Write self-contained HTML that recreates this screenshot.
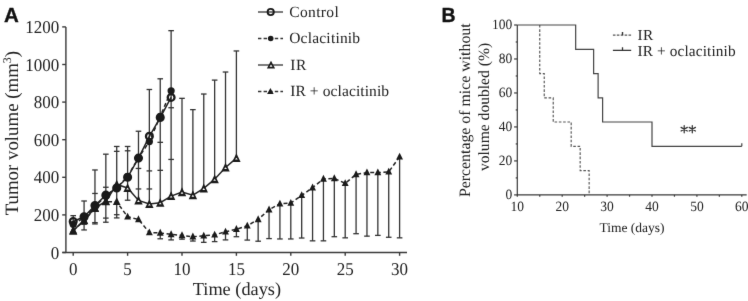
<!DOCTYPE html>
<html><head><meta charset="utf-8"><style>
html,body{margin:0;padding:0;background:#fff;}
svg{display:block;text-rendering:geometricPrecision;}
</style></head><body>
<svg width="748" height="301" viewBox="0 0 748 301">
<defs><filter id="bl" x="0" y="0" width="748" height="301" filterUnits="userSpaceOnUse" color-interpolation-filters="sRGB"><feConvolveMatrix order="3" kernelMatrix="0.00524 0.06192 0.00524 0.06192 0.73137 0.06192 0.00524 0.06192 0.00524" divisor="1" edgeMode="duplicate" preserveAlpha="false"/></filter></defs>
<rect width="748" height="301" fill="#fff"/>
<g filter="url(#bl)">
<g stroke="#3a3a3a" stroke-width="1.4" fill="none">
<path d="M65.9 26.9V252.5M62.4 252.5H407"/>
<path d="M62.2 252.5H65.9"/>
<path d="M62.2 214.9H65.9"/>
<path d="M62.2 177.3H65.9"/>
<path d="M62.2 139.7H65.9"/>
<path d="M62.2 102.1H65.9"/>
<path d="M62.2 64.5H65.9"/>
<path d="M62.2 26.9H65.9"/>
<path d="M73.2 252.5V255.8"/>
<path d="M127.6 252.5V255.8"/>
<path d="M182 252.5V255.8"/>
<path d="M236.4 252.5V255.8"/>
<path d="M290.8 252.5V255.8"/>
<path d="M345.2 252.5V255.8"/>
<path d="M399.6 252.5V255.8"/>
</g>
<g font-family="Liberation Serif, serif" font-size="17" fill="#222" text-anchor="end">
<text transform="translate(59.3 258.6) scale(1 1.06)">0</text>
<text transform="translate(59.3 221) scale(1 1.06)">200</text>
<text transform="translate(59.3 183.4) scale(1 1.06)">400</text>
<text transform="translate(59.3 145.8) scale(1 1.06)">600</text>
<text transform="translate(59.3 108.2) scale(1 1.06)">800</text>
<text transform="translate(59.3 70.6) scale(1 1.06)">1000</text>
<text transform="translate(59.3 33) scale(1 1.06)">1200</text>
</g>
<g font-family="Liberation Serif, serif" font-size="17" fill="#222" text-anchor="middle">
<text transform="translate(73.2 275.1) scale(1 1.06)">0</text>
<text transform="translate(127.6 275.1) scale(1 1.06)">5</text>
<text transform="translate(182 275.1) scale(1 1.06)">10</text>
<text transform="translate(236.4 275.1) scale(1 1.06)">15</text>
<text transform="translate(290.8 275.1) scale(1 1.06)">20</text>
<text transform="translate(345.2 275.1) scale(1 1.06)">25</text>
<text transform="translate(399.6 275.1) scale(1 1.06)">30</text>
</g>
<text x="236.9" y="295.4" font-family="Liberation Serif, serif" font-size="18.3" fill="#222" text-anchor="middle">Time (days)</text>
<text transform="translate(17.7 133.1) rotate(-90)" font-family="Liberation Serif, serif" font-size="18.85" fill="#222" text-anchor="middle">Tumor volume (mm<tspan font-size="12" dy="-7">3</tspan><tspan dy="7">)</tspan></text>
<text x="3.9" y="21.7" font-family="Liberation Sans, sans-serif" font-weight="bold" font-size="20.5" fill="#111" stroke="#111" stroke-width="0.35">A</text>
<g stroke="#333" stroke-width="1.3" fill="none">
<path d="M73.2 215.65V228.06"/>
<path d="M70.4 215.65H76"/>
<path d="M84.08 200.99V229.94"/>
<path d="M81.28 200.99H86.88"/>
<path d="M81.28 224.3H86.88"/>
<path d="M81.28 229.94H86.88"/>
<path d="M94.96 169.97V223.92"/>
<path d="M92.16 169.97H97.76"/>
<path d="M92.16 193.47H97.76"/>
<path d="M92.16 222.61H97.76"/>
<path d="M92.16 223.92H97.76"/>
<path d="M105.84 154.18V222.23"/>
<path d="M103.04 154.18H108.64"/>
<path d="M103.04 187.26H108.64"/>
<path d="M103.04 218.1H108.64"/>
<path d="M103.04 222.23H108.64"/>
<path d="M116.72 146.47V217.91"/>
<path d="M113.92 146.47H119.52"/>
<path d="M113.92 151.36H119.52"/>
<path d="M113.92 214.71H119.52"/>
<path d="M113.92 217.91H119.52"/>
<path d="M127.6 146.47V200.24"/>
<path d="M124.8 146.47H130.4"/>
<path d="M124.8 150.79H130.4"/>
<path d="M124.8 200.24H130.4"/>
<path d="M138.48 131.24V200.42"/>
<path d="M135.68 131.24H141.28"/>
<path d="M135.68 168.46H141.28"/>
<path d="M135.68 188.96H141.28"/>
<path d="M149.36 89.5V204"/>
<path d="M146.56 89.5H152.16"/>
<path d="M146.56 170.91H152.16"/>
<path d="M146.56 188.96H152.16"/>
<path d="M160.24 78.79V202.68"/>
<path d="M157.44 78.79H163.04"/>
<path d="M157.44 142.33H163.04"/>
<path d="M157.44 170.34H163.04"/>
<path d="M171.12 30.66V196.1"/>
<path d="M168.32 30.66H173.92"/>
<path d="M168.32 107.74H173.92"/>
<path d="M168.32 159.44H173.92"/>
<path d="M182 98.34V192.15"/>
<path d="M179.2 98.34H184.8"/>
<path d="M192.88 109.62V195.16"/>
<path d="M190.08 109.62H195.68"/>
<path d="M203.76 94.02V188.39"/>
<path d="M200.96 94.02H206.56"/>
<path d="M214.64 80.1V179.18"/>
<path d="M211.84 80.1H217.44"/>
<path d="M225.52 72.02V167.52"/>
<path d="M222.72 72.02H228.32"/>
<path d="M236.4 50.96V158.12"/>
<path d="M233.6 50.96H239.2"/>
<path d="M160.24 232.95V238.78"/>
<path d="M157.44 238.78H163.04"/>
<path d="M171.12 234.45V239.9"/>
<path d="M168.32 239.9H173.92"/>
<path d="M182 235.39V239.15"/>
<path d="M179.2 239.15H184.8"/>
<path d="M192.88 236.71V241.03"/>
<path d="M190.08 241.03H195.68"/>
<path d="M203.76 235.77V242.35"/>
<path d="M200.96 242.35H206.56"/>
<path d="M214.64 234.83V241.6"/>
<path d="M211.84 241.6H217.44"/>
<path d="M225.52 231.82V239.9"/>
<path d="M222.72 239.9H228.32"/>
<path d="M236.4 229.19V236.71"/>
<path d="M233.6 236.71H239.2"/>
<path d="M247.28 225.8V240.09"/>
<path d="M244.48 240.09H250.08"/>
<path d="M258.16 219.41V241.22"/>
<path d="M255.36 241.22H260.96"/>
<path d="M269.04 209.64V238.59"/>
<path d="M266.24 238.59H271.84"/>
<path d="M279.92 203.81V238.96"/>
<path d="M277.12 238.96H282.72"/>
<path d="M290.8 203.06V238.96"/>
<path d="M288 238.96H293.6"/>
<path d="M301.68 195.35V238.02"/>
<path d="M298.88 238.02H304.48"/>
<path d="M312.56 187.64V240.84"/>
<path d="M309.76 240.84H315.36"/>
<path d="M323.44 178.99V240.84"/>
<path d="M320.64 240.84H326.24"/>
<path d="M334.32 178.43V236.71"/>
<path d="M331.52 236.71H337.12"/>
<path d="M345.2 183.32V237.84"/>
<path d="M342.4 237.84H348"/>
<path d="M356.08 174.48V233.7"/>
<path d="M353.28 233.7H358.88"/>
<path d="M366.96 172.6V236.14"/>
<path d="M364.16 236.14H369.76"/>
<path d="M377.84 172.6V235.39"/>
<path d="M375.04 235.39H380.64"/>
<path d="M388.72 171.85V237.27"/>
<path d="M385.92 237.27H391.52"/>
<path d="M399.6 156.81V237.84"/>
<path d="M396.8 237.84H402.4"/>
</g>
<polyline points="73.2,230.69 84.08,220.16 94.96,207.94 105.84,201.36 116.72,184.44 127.6,188.02 138.48,200.42 149.36,204 160.24,202.68 171.12,196.1 182,192.15 192.88,195.16 203.76,188.39 214.64,179.18 225.52,167.52 236.4,158.12" fill="none" stroke="#222" stroke-width="1.5"/>
<polyline points="73.2,221.48 84.08,216.78 94.96,205.5 105.84,195.16 116.72,188.02 127.6,177.3 138.48,158.12 149.36,136.32 160.24,117.52 171.12,97.4" fill="none" stroke="#222" stroke-width="1.5"/>
<polyline points="73.2,224.3 84.08,217.72 94.96,206.44 105.84,196.1 116.72,187.64 127.6,176.55 138.48,157.75 149.36,141.58 160.24,116.39 171.12,90.82" fill="none" stroke="#222" stroke-width="1.5" stroke-dasharray="4 2.6"/>
<polyline points="73.2,230.69 84.08,220.92 94.96,208.32 105.84,201.74 116.72,201.93 127.6,216.78 138.48,219.41 149.36,232.57 160.24,232.95 171.12,234.45 182,235.39 192.88,236.71 203.76,235.77 214.64,234.83 225.52,231.82 236.4,229.19 247.28,225.8 258.16,219.41 269.04,209.64 279.92,203.81 290.8,203.06 301.68,195.35 312.56,187.64 323.44,178.99 334.32,178.43 345.2,183.32 356.08,174.48 366.96,172.6 377.84,172.6 388.72,171.85 399.6,156.81" fill="none" stroke="#222" stroke-width="1.5" stroke-dasharray="4 2.6"/>
<g>
<path d="M73.2 225.89L77.4 234.69L69 234.69Z" fill="#1a1a1a"/><path d="M73.2 230.39L74.6 232.19L71.8 232.19Z" fill="#fff"/>
<path d="M84.08 215.36L88.28 224.16L79.88 224.16Z" fill="#1a1a1a"/><path d="M84.08 219.86L85.48 221.66L82.68 221.66Z" fill="#fff"/>
<path d="M94.96 203.14L99.16 211.94L90.76 211.94Z" fill="#1a1a1a"/><path d="M94.96 207.64L96.36 209.44L93.56 209.44Z" fill="#fff"/>
<path d="M105.84 196.56L110.04 205.36L101.64 205.36Z" fill="#1a1a1a"/><path d="M105.84 201.06L107.24 202.86L104.44 202.86Z" fill="#fff"/>
<path d="M116.72 179.64L120.92 188.44L112.52 188.44Z" fill="#1a1a1a"/><path d="M116.72 184.14L118.12 185.94L115.32 185.94Z" fill="#fff"/>
<path d="M127.6 183.22L131.8 192.02L123.4 192.02Z" fill="#1a1a1a"/><path d="M127.6 187.72L129 189.52L126.2 189.52Z" fill="#fff"/>
<path d="M138.48 195.62L142.68 204.42L134.28 204.42Z" fill="#1a1a1a"/><path d="M138.48 200.12L139.88 201.92L137.08 201.92Z" fill="#fff"/>
<path d="M149.36 199.2L153.56 208L145.16 208Z" fill="#1a1a1a"/><path d="M149.36 203.7L150.76 205.5L147.96 205.5Z" fill="#fff"/>
<path d="M160.24 197.88L164.44 206.68L156.04 206.68Z" fill="#1a1a1a"/><path d="M160.24 202.38L161.64 204.18L158.84 204.18Z" fill="#fff"/>
<path d="M171.12 191.3L175.32 200.1L166.92 200.1Z" fill="#1a1a1a"/><path d="M171.12 195.8L172.52 197.6L169.72 197.6Z" fill="#fff"/>
<path d="M182 187.35L186.2 196.15L177.8 196.15Z" fill="#1a1a1a"/><path d="M182 191.85L183.4 193.65L180.6 193.65Z" fill="#fff"/>
<path d="M192.88 190.36L197.08 199.16L188.68 199.16Z" fill="#1a1a1a"/><path d="M192.88 194.86L194.28 196.66L191.48 196.66Z" fill="#fff"/>
<path d="M203.76 183.59L207.96 192.39L199.56 192.39Z" fill="#1a1a1a"/><path d="M203.76 188.09L205.16 189.89L202.36 189.89Z" fill="#fff"/>
<path d="M214.64 174.38L218.84 183.18L210.44 183.18Z" fill="#1a1a1a"/><path d="M214.64 178.88L216.04 180.68L213.24 180.68Z" fill="#fff"/>
<path d="M225.52 162.72L229.72 171.52L221.32 171.52Z" fill="#1a1a1a"/><path d="M225.52 167.22L226.92 169.02L224.12 169.02Z" fill="#fff"/>
<path d="M236.4 153.32L240.6 162.12L232.2 162.12Z" fill="#1a1a1a"/><path d="M236.4 157.82L237.8 159.62L235 159.62Z" fill="#fff"/>
</g>
<g fill="none" stroke="#1a1a1a" stroke-width="2.3">
<circle cx="73.2" cy="221.48" r="3.4"/>
<circle cx="84.08" cy="216.78" r="3.4"/>
<circle cx="94.96" cy="205.5" r="3.4"/>
<circle cx="105.84" cy="195.16" r="3.4"/>
<circle cx="116.72" cy="188.02" r="3.4"/>
<circle cx="127.6" cy="177.3" r="3.4"/>
<circle cx="138.48" cy="158.12" r="3.4"/>
<circle cx="149.36" cy="136.32" r="3.4"/>
<circle cx="160.24" cy="117.52" r="3.4"/>
<circle cx="171.12" cy="97.4" r="3.4"/>
</g>
<g fill="#1a1a1a">
<circle cx="73.2" cy="224.3" r="3.6"/>
<circle cx="84.08" cy="217.72" r="3.6"/>
<circle cx="94.96" cy="206.44" r="3.6"/>
<circle cx="105.84" cy="196.1" r="3.6"/>
<circle cx="116.72" cy="187.64" r="3.6"/>
<circle cx="127.6" cy="176.55" r="3.6"/>
<circle cx="138.48" cy="157.75" r="3.6"/>
<circle cx="149.36" cy="141.58" r="3.6"/>
<circle cx="160.24" cy="116.39" r="3.6"/>
<circle cx="171.12" cy="90.82" r="3.6"/>
</g>
<g fill="#1a1a1a">
<path d="M73.2 226.07L77.05 233.77L69.35 233.77Z"/>
<path d="M84.08 216.3L87.93 224L80.23 224Z"/>
<path d="M94.96 203.7L98.81 211.4L91.11 211.4Z"/>
<path d="M105.84 197.12L109.69 204.82L101.99 204.82Z"/>
<path d="M116.72 197.31L120.57 205.01L112.87 205.01Z"/>
<path d="M127.6 212.66L131.04 219.53L124.16 219.53Z"/>
<path d="M138.48 215.29L141.92 222.16L135.04 222.16Z"/>
<path d="M149.36 228.45L152.8 235.32L145.92 235.32Z"/>
<path d="M160.24 228.82L163.68 235.7L156.8 235.7Z"/>
<path d="M171.12 230.33L174.56 237.2L167.68 237.2Z"/>
<path d="M182 231.27L185.44 238.14L178.56 238.14Z"/>
<path d="M192.88 232.58L196.32 239.46L189.44 239.46Z"/>
<path d="M203.76 231.64L207.2 238.52L200.32 238.52Z"/>
<path d="M214.64 230.7L218.08 237.58L211.2 237.58Z"/>
<path d="M225.52 227.69L228.96 234.57L222.08 234.57Z"/>
<path d="M236.4 225.06L239.84 231.94L232.96 231.94Z"/>
<path d="M247.28 221.68L250.72 228.55L243.84 228.55Z"/>
<path d="M258.16 215.29L261.6 222.16L254.72 222.16Z"/>
<path d="M269.04 205.51L272.48 212.39L265.6 212.39Z"/>
<path d="M279.92 199.68L283.36 206.56L276.48 206.56Z"/>
<path d="M290.8 198.93L294.24 205.81L287.36 205.81Z"/>
<path d="M301.68 191.22L305.12 198.1L298.24 198.1Z"/>
<path d="M312.56 183.51L316 190.39L309.12 190.39Z"/>
<path d="M323.44 174.87L326.88 181.74L320 181.74Z"/>
<path d="M334.32 174.3L337.76 181.18L330.88 181.18Z"/>
<path d="M345.2 179.19L348.64 186.07L341.76 186.07Z"/>
<path d="M356.08 170.36L359.52 177.23L352.64 177.23Z"/>
<path d="M366.96 168.47L370.4 175.35L363.52 175.35Z"/>
<path d="M377.84 168.47L381.28 175.35L374.4 175.35Z"/>
<path d="M388.72 167.72L392.16 174.6L385.28 174.6Z"/>
<path d="M399.6 152.68L403.04 159.56L396.16 159.56Z"/>
</g>
<path d="M258 12H283" stroke="#333" stroke-width="1.3"/>
<circle cx="270.7" cy="12" r="3.1" fill="none" stroke="#1a1a1a" stroke-width="1.9"/>
<text x="289.2" y="16.8" font-family="Liberation Serif, serif" font-size="15.5" fill="#222" textLength="49.6" lengthAdjust="spacing">Control</text>
<path d="M258 38.5H283" stroke="#333" stroke-width="1.3" stroke-dasharray="3.4 2.2"/>
<circle cx="270.7" cy="38.5" r="2.8" fill="#1a1a1a"/>
<text x="289.2" y="43.1" font-family="Liberation Serif, serif" font-size="15.5" fill="#222" textLength="70.9" lengthAdjust="spacing">Oclacitinib</text>
<path d="M258 65H283" stroke="#333" stroke-width="1.3"/>
<path d="M271 60.7L275.1 68.4L266.9 68.4Z" fill="#1a1a1a"/><path d="M271 64.5L272.5 66.7L269.5 66.7Z" fill="#fff"/>
<text x="290.2" y="70.0" font-family="Liberation Serif, serif" font-size="15.5" fill="#222" textLength="16.2" lengthAdjust="spacing">IR</text>
<path d="M258 91.5H283" stroke="#333" stroke-width="1.3" stroke-dasharray="3.4 2.2"/>
<path d="M270.4 87.9L273.7 94.1L267.1 94.1Z" fill="#1a1a1a"/>
<text x="290.2" y="96.3" font-family="Liberation Serif, serif" font-size="15.5" fill="#222" textLength="98.9" lengthAdjust="spacing">IR + oclacitinib</text>
<g stroke="#3a3a3a" stroke-width="1.2" fill="none">
<path d="M517.3 25V194.9H746.7"/>
<path d="M514.1 194.9H517.3"/>
<path d="M515.7 177.91H517.3"/>
<path d="M514.1 160.92H517.3"/>
<path d="M515.7 143.93H517.3"/>
<path d="M514.1 126.94H517.3"/>
<path d="M515.7 109.95H517.3"/>
<path d="M514.1 92.96H517.3"/>
<path d="M515.7 75.97H517.3"/>
<path d="M514.1 58.98H517.3"/>
<path d="M515.7 41.99H517.3"/>
<path d="M514.1 25H517.3"/>
<path d="M517.3 194.9V196.7"/>
<path d="M539.75 194.9V196.7"/>
<path d="M562.2 194.9V196.7"/>
<path d="M584.65 194.9V196.7"/>
<path d="M607.1 194.9V196.7"/>
<path d="M629.55 194.9V196.7"/>
<path d="M652 194.9V196.7"/>
<path d="M674.45 194.9V196.7"/>
<path d="M696.9 194.9V196.7"/>
<path d="M719.35 194.9V196.7"/>
<path d="M741.8 194.9V196.7"/>
</g>
<g font-family="Liberation Serif, serif" font-size="13.5" fill="#222" text-anchor="end">
<text transform="translate(512.3 199.25) scale(1 1.05)">0</text>
<text transform="translate(512.3 165.27) scale(1 1.05)">20</text>
<text transform="translate(512.3 131.29) scale(1 1.05)">40</text>
<text transform="translate(512.3 97.31) scale(1 1.05)">60</text>
<text transform="translate(512.3 63.33) scale(1 1.05)">80</text>
<text transform="translate(512.3 29.35) scale(1 1.05)">100</text>
</g>
<g font-family="Liberation Serif, serif" font-size="13.5" fill="#222" text-anchor="middle">
<text transform="translate(517.3 211.2) scale(1 1.05)">10</text>
<text transform="translate(562.2 211.2) scale(1 1.05)">20</text>
<text transform="translate(607.1 211.2) scale(1 1.05)">30</text>
<text transform="translate(652 211.2) scale(1 1.05)">40</text>
<text transform="translate(696.9 211.2) scale(1 1.05)">50</text>
<text transform="translate(741.8 211.2) scale(1 1.05)">60</text>
</g>
<text x="632" y="231.5" font-family="Liberation Serif, serif" font-size="13.5" fill="#222" text-anchor="middle">Time (days)</text>
<text transform="translate(469.8 110.2) rotate(-90)" font-family="Liberation Serif, serif" font-size="15.85" fill="#222" text-anchor="middle">Percentage of mice without</text>
<text transform="translate(488.8 107) rotate(-90)" font-family="Liberation Serif, serif" font-size="15.6" fill="#222" text-anchor="middle">volume doubled (%)</text>
<text transform="translate(441.6 21.7) scale(0.95 1)" font-family="Liberation Sans, sans-serif" font-weight="bold" font-size="20.5" fill="#111" stroke="#111" stroke-width="0.35">B</text>
<path d="M539.75 25H539.75V73.59H544.24V97.89H553.22V122.01H571.18V146.31H580.16V170.6H589.14V194.9" fill="none" stroke="#555" stroke-width="1.15" stroke-dasharray="2.6 1.7"/>
<path d="M517.3 25H575.67V49.3H593.63V73.59H598.12V97.89H602.61V122.01H652V146.31H741.8" fill="none" stroke="#444" stroke-width="1.2"/>
<path d="M741.8 146.31V143.31" stroke="#444" stroke-width="1.2"/>
<path d="M684.2 132.8L684.2 125.6M681.08 131L687.32 127.4M687.32 131L681.08 127.4M692.3 132.8L692.3 125.6M689.18 131L695.42 127.4M695.42 131L689.18 127.4" stroke="#333" stroke-width="1.25" stroke-linecap="round"/>
<path d="M612.9 35.1H631.2" stroke="#555" stroke-width="1.15" stroke-dasharray="2.6 1.3"/>
<path d="M622.5 35.1V32" stroke="#333" stroke-width="1.4"/>
<path d="M612.9 50.4H631.2M622.5 50.4V47.2" stroke="#333" stroke-width="1.3"/>
<text x="637.4" y="40" font-family="Liberation Serif, serif" font-size="15.3" fill="#222" textLength="15.8" lengthAdjust="spacing">IR</text>
<text x="637.4" y="56.2" font-family="Liberation Serif, serif" font-size="15.3" fill="#222" textLength="98.2" lengthAdjust="spacing">IR + oclacitinib</text>
</g>
</svg>
</body></html>
